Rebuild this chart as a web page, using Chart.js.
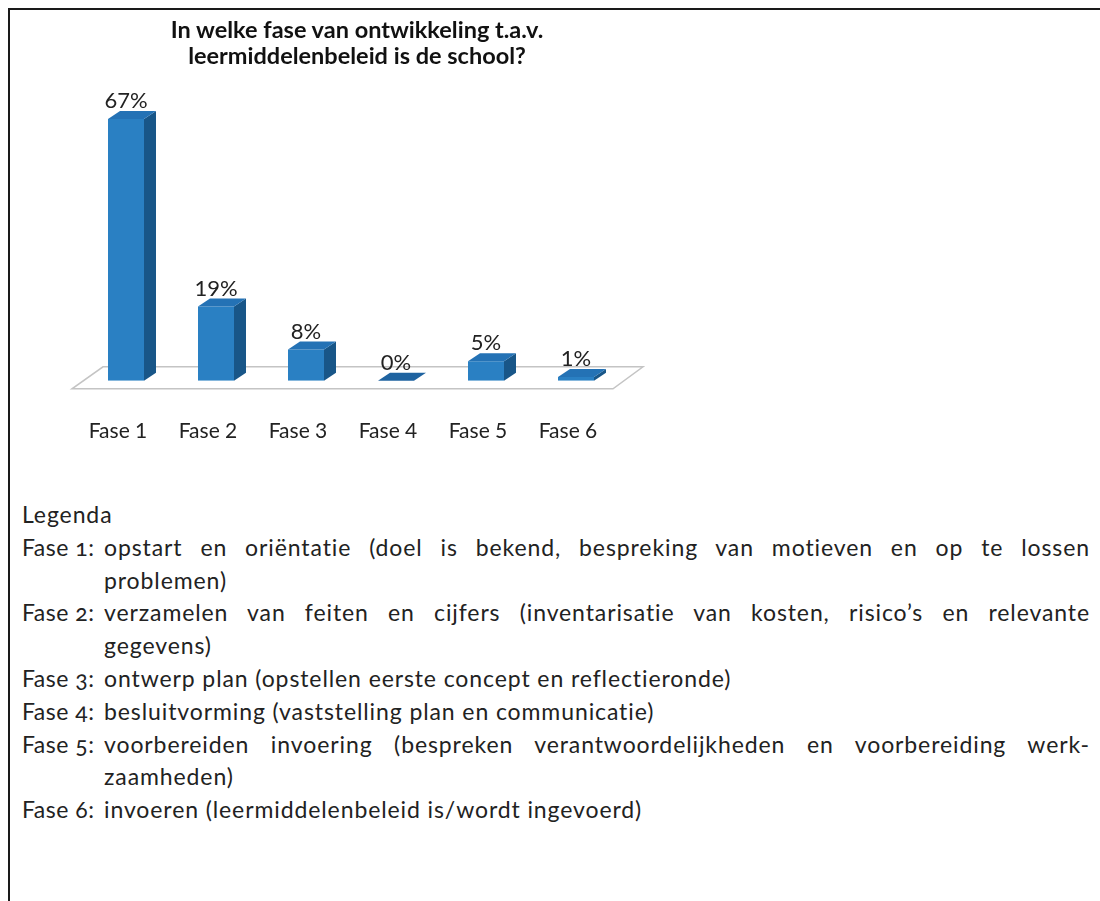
<!DOCTYPE html>
<html><head><meta charset="utf-8">
<script src="https://cdn.jsdelivr.net/npm/chart.js@4.4.1/dist/chart.umd.min.js"></script>
<style>
html,body{margin:0;padding:0;background:#fff;}
body{width:1100px;height:901px;position:relative;overflow:hidden;font-family:Lato,"Open Sans",sans-serif;}
#frame{position:absolute;left:8px;top:8px;width:1092px;height:893px;border-top:2px solid #1a1a1a;border-left:2px solid #1a1a1a;box-sizing:border-box;}
#title{position:absolute;left:107px;width:500px;top:16px;text-align:center;font-weight:bold;font-size:23.5px;line-height:26px;color:#111;}
#chart{position:absolute;left:0;top:0;}
#legend{position:absolute;left:22px;top:498px;width:1068px;font-size:23px;letter-spacing:0.9px;line-height:32.8px;color:#222;font-variant-numeric:oldstyle-nums;}
.j{text-align:justify;text-align-last:justify;}
.lab{display:inline-block;width:82px;white-space:nowrap;letter-spacing:0.5px;text-align:left;text-align-last:left;}
.ind{padding-left:82px;}
</style>
</head><body>
<div id="frame"></div>
<canvas id="chart" width="700" height="484"></canvas>
<div id="title">In welke fase van ontwikkeling t.a.v.<br>leermiddelenbeleid is de school?</div>
<div id="legend">
<div>Legenda</div>
<div class="j"><span class="lab">Fase 1:</span>opstart en oriëntatie (doel is bekend, bespreking van motieven en op te lossen</div>
<div class="ind">problemen)</div>
<div class="j"><span class="lab">Fase 2:</span>verzamelen van feiten en cijfers (inventarisatie van kosten, risico’s en relevante</div>
<div class="ind">gegevens)</div>
<div><span class="lab">Fase 3:</span>ontwerp plan (opstellen eerste concept en reflectieronde)</div>
<div><span class="lab">Fase 4:</span>besluitvorming (vaststelling plan en communicatie)</div>
<div class="j"><span class="lab">Fase 5:</span>voorbereiden invoering (bespreken verantwoordelijkheden en voorbereiding werk-</div>
<div class="ind">zaamheden)</div>
<div><span class="lab">Fase 6:</span>invoeren (leermiddelenbeleid is/wordt ingevoerd)</div>
</div>
<script>
const categories = ['Fase 1', 'Fase 2', 'Fase 3', 'Fase 4', 'Fase 5', 'Fase 6'];
const percentages = [67, 19, 8, 0, 5, 1];
const valueLabels = ['67%', '19%', '8%', '0%', '5%', '1%'];

const FRONT = '#2a80c3', TOP = '#2472b5', SIDE = '#185688';
const DX = 12, DY = 8;

const bar3d = {
  id: 'bar3d',
  beforeDatasetsDraw(chart) {
    const ctx = chart.ctx, a = chart.chartArea;
    const y0 = chart.scales.y.getPixelForValue(0);
    const fl = a.left - 9, fr = a.right - 8, fy = y0 + 8;
    ctx.save();
    ctx.beginPath();
    ctx.moveTo(fl, fy); ctx.lineTo(fr, fy);
    ctx.lineTo(fr + 30, fy - 22); ctx.lineTo(fl + 31, fy - 22);
    ctx.closePath();
    ctx.fillStyle = '#ffffff'; ctx.fill();
    ctx.strokeStyle = '#c4c4c4'; ctx.lineWidth = 1.5; ctx.stroke();
    ctx.restore();
  },
  afterDatasetsDraw(chart) {
    const ctx = chart.ctx;
    const meta = chart.getDatasetMeta(0);
    ctx.save();
    meta.data.forEach((el, i) => {
      const p = el.getProps(['x', 'y', 'base', 'width'], true);
      const l = p.x - p.width / 2, r = p.x + p.width / 2;
      ctx.beginPath();
      ctx.moveTo(r, p.y); ctx.lineTo(r + DX, p.y - DY);
      ctx.lineTo(r + DX, p.base - DY); ctx.lineTo(r, p.base);
      ctx.closePath(); ctx.fillStyle = SIDE; ctx.fill();
      ctx.beginPath();
      ctx.moveTo(l, p.y); ctx.lineTo(r, p.y);
      ctx.lineTo(r + DX, p.y - DY); ctx.lineTo(l + DX, p.y - DY);
      ctx.closePath(); ctx.fillStyle = (p.base - p.y < 1) ? '#1f63a0' : TOP; ctx.fill();
      ctx.fillStyle = '#222';
      ctx.font = '22px Lato, "Open Sans", sans-serif';
      ctx.textAlign = 'center';
      ctx.textBaseline = 'alphabetic';
      ctx.fillText(valueLabels[i], p.x, p.y - DY - 3);
    });
    ctx.restore();
  }
};

new Chart(document.getElementById('chart'), {
  type: 'bar',
  data: {
    labels: categories,
    datasets: [{
      data: percentages,
      backgroundColor: FRONT,
      borderWidth: 0,
      barPercentage: 0.4,
      categoryPercentage: 1.0
    }]
  },
  options: {
    responsive: false,
    devicePixelRatio: 1,
    animation: false,
    layout: { padding: { left: 81, right: 79, top: 72, bottom: 2 } },
    plugins: { legend: { display: false }, tooltip: { enabled: false }, title: { display: false } },
    scales: {
      y: { display: false, min: 0, max: 79 },
      x: {
        grid: { display: false, drawTicks: false },
        border: { display: false },
        ticks: {
          color: '#222',
          font: { family: 'Lato, "Open Sans", sans-serif', size: 21 },
          padding: 38,
          labelOffset: -8,
          maxRotation: 0,
          autoSkip: false
        }
      }
    }
  },
  plugins: [bar3d]
});
</script>
</body></html>
